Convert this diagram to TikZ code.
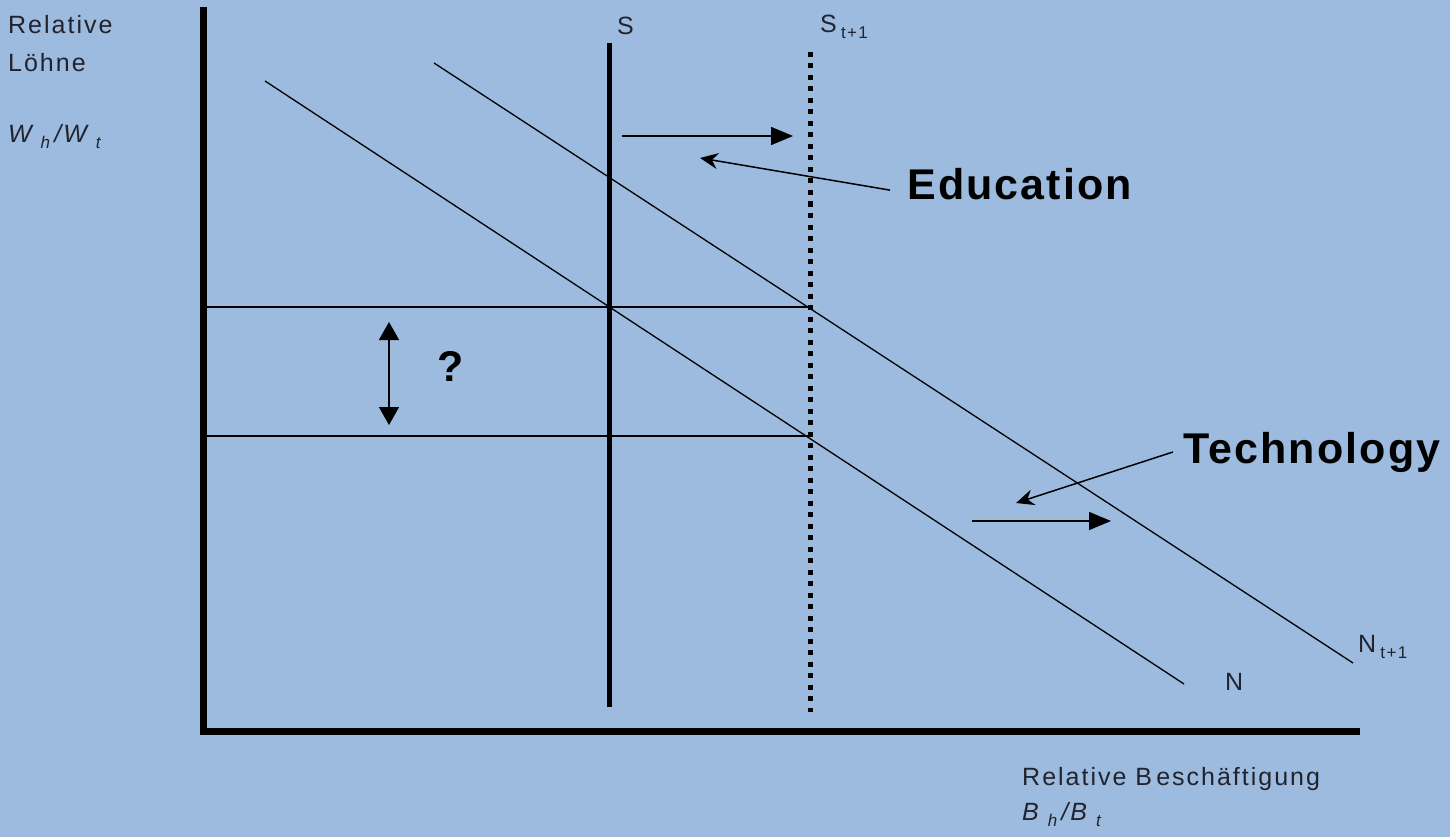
\documentclass[tikz,border=0pt]{standalone}
\usepackage{fontspec}
\setmainfont{Liberation Sans}
\newfontfamily\lblfont[LetterSpace=8]{Liberation Sans}
\newfontfamily\keyfont[LetterSpace=5]{Liberation Sans}
\usetikzlibrary{arrows.meta,positioning}
\definecolor{slide}{RGB}{156,187,222}
\definecolor{ink}{RGB}{35,35,45}
\newcommand{\lowsub}[1]{\raisebox{-6pt}{\fontsize{17}{17}\selectfont #1}}

\begin{document}
\begin{tikzpicture}[x=1pt, y=-1pt,
    axis/.style={line width=7pt, line join=miter},
    supply/.style={line width=5pt},
    supplynew/.style={line width=5pt, dash pattern=on 5pt off 6.5pt},
    demand/.style={line width=1.3pt},
    level/.style={line width=1.6pt},
    shiftarrow/.style={line width=1.5pt, -{Triangle[length=22pt,width=18pt]}},
    gaparrow/.style={line width=1.5pt, {Triangle[length=18pt,width=20pt]}-{Triangle[length=18pt,width=20pt]}},
    cause/.style={line width=1.5pt, -{Stealth[length=18pt,width=16pt,inset=6pt]}},
    lbl/.style={inner sep=0pt, anchor=base west, text=ink, font=\lblfont\fontsize{25}{30}\selectfont},
    key/.style={inner sep=0pt, anchor=base west, font=\keyfont\bfseries\fontsize{43}{50}\selectfont}]
  \fill[slide] (0,0) rectangle (1450,837);
  \useasboundingbox (0,0) rectangle (1450,837);

  % axes
  \coordinate (O) at (203,731);
  \coordinate (ytop) at (203,7);
  \coordinate (xend) at (1360,731);
  \draw[axis] (ytop) -- (O) -- (xend);

  % supply
  \coordinate (S0) at (609.5,43);
  \coordinate (S1) at (609.5,707);
  \coordinate (T0) at (810,52);
  \coordinate (T1) at (810,712);
  \draw[supply] (S0) -- (S1);
  \draw[supplynew] (T0) -- (T1);

  % demand
  \coordinate (N0) at (265,81);
  \coordinate (N1) at (1184,684);
  \coordinate (M0) at (434,63);
  \coordinate (M1) at (1353,663);
  \draw[demand] (N0) -- (N1);
  \draw[demand] (M0) -- (M1);

  % wage levels
  \foreach \y/\n in {307/hi, 436/lo}{
    \coordinate (\n0) at (203,\y);
    \coordinate (\n1) at (810,\y);
    \draw[level] (\n0) -- (\n1);
  }
  \coordinate (g0) at (389,322);
  \coordinate (g1) at (389,425);
  \draw[gaparrow] (g0) -- (g1);
  \node[key] (q) at (437,381) {?};

  % shifts
  \node[key] (edu) at (907,200) {Education};
  \node[key] (tech) at (1183,463) {Technology};
  \coordinate (e0) at (622,136);
  \coordinate (e1) at (793,136);
  \coordinate (e2) at (700,158);
  \coordinate (t0) at (972,521);
  \coordinate (t1) at (1111,521);
  \coordinate (t2) at (1016,503);
  \draw[shiftarrow] (e0) -- (e1);
  \draw[shiftarrow] (t0) -- (t1);
  \draw[cause] ([xshift=-17pt,yshift=-5.5pt]edu.west) -- (e2);
  \draw[cause] ([xshift=-10pt]tech.west) -- (t2);

  % labels
  \node[lbl] (rel) at (8,34) {Relative};
  \node[lbl] (loehne) at (8,72) {Löhne};
  \node[lbl] (wage) at (8,143) {\itshape W\ \lowsub{h}\,/W\ \lowsub{t}};
  \node[lbl] (Slbl) at (617,35) {S};
  \node[lbl] (Tlbl) at (820,33) {S\,\lowsub{t+1}};
  \node[lbl] (Nlbl) at (1225,690) {N};
  \node[lbl] (Mlbl) at (1358,652) {N\,\lowsub{t+1}};
  \node[lbl] (emp) at (1022,785) {Relative B\,eschäftigung};
  \node[lbl] (ratio) at (1022,820) {\itshape B\ \lowsub{h}\,/B\ \lowsub{t}};
\end{tikzpicture}
\end{document}
